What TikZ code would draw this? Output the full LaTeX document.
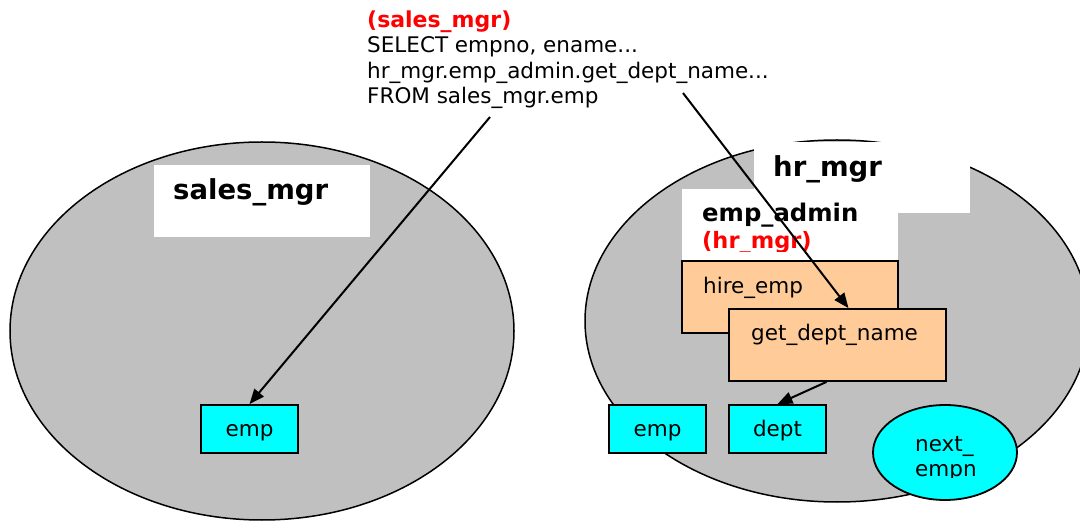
\documentclass[tikz,border=0pt]{standalone}
\usepackage{fontspec}
\setmainfont{DejaVu Sans}
\usetikzlibrary{shapes.geometric,arrows.meta}
\definecolor{schemagray}{HTML}{C0C0C0}
\definecolor{tablecyan}{HTML}{00FFFF}
\definecolor{progpeach}{HTML}{FFCC99}
\begin{document}
\begin{tikzpicture}[x=1pt,y=-1pt,
    schema/.style={ellipse,draw,line width=1.5pt,fill=schemagray,inner sep=0},
    namebox/.style={rectangle,fill=white,minimum width=216,minimum height=72,inner sep=0},
    progbox/.style={rectangle,draw,line width=1.8pt,fill=progpeach,minimum width=216,minimum height=72,inner sep=0},
    tablebox/.style={rectangle,draw,line width=1.8pt,fill=tablecyan,minimum width=97,minimum height=48,inner sep=0,
        text height=16pt,text depth=0pt,font=\fontsize{21.5}{25}\selectfont},
    boxtext/.style={anchor=base west,inner sep=0,font=\fontsize{21.5}{25}\selectfont},
    nametext/.style={anchor=base west,inner sep=0,font=\fontsize{27.5}{32}\selectfont\bfseries},
    ownertext/.style={anchor=base west,inner sep=0,text=red,font=\fontsize{22.5}{26}\selectfont\bfseries},
    callarrow/.style={line width=2pt,-{Triangle[length=15pt,width=12pt]}}]
        \useasboundingbox (0,0) rectangle (1080,521);

        % calling schema

        \node[schema,minimum width=504,minimum height=378] (salesdb) at (262,331) {};
        \node[namebox] (salesname) at (262,201) {};
        \node[nametext] (salestitle) at (173,200) {sales\_mgr};
        \node[tablebox] (empl) at (249.5,429) {emp};

        % owning schema

        \node[schema,minimum width=504,minimum height=362] (hrdb) at (837,321) {};
        \node[namebox,minimum height=71] (hrname) at (862,177.5) {};
        \node[nametext] (hrtitle) at (773,177) {hr\_mgr};
        \node[namebox] (pkgname) at (790,225) {};
        \begin{scope}
            \clip (682,189) rectangle (898,252);
            \node[nametext,font=\fontsize{24.3}{28}\selectfont\bfseries] (pkgtitle) at (702,222) {emp\_admin};
            \node[ownertext] (pkgowner) at (702,249) {(hr\_mgr)};
        \end{scope}
        \node[progbox] (hire) at (790,297) {};
        \node[boxtext] (hiretext) at (703,294) {hire\_emp};
        \node[progbox,minimum width=217] (getdept) at (837.5,345) {};
        \node[boxtext] (getdepttext) at (751,341) {get\_dept\_name};
        \node[tablebox] (empr) at (657.5,429) {emp};
        \node[tablebox] (dept) at (777.5,429) {dept};
        \node[ellipse,draw,line width=1.8pt,fill=tablecyan,minimum width=144,minimum height=95,inner sep=0] (nextseq) at (945,452.5) {};
        \begin{scope}
            \clip (880,400) rectangle (1012,478);
            \node[boxtext] (nexta) at (915,452) {next\_};
            \node[boxtext] (nextb) at (915,477) {empn};
        \end{scope}

        % query

        \node[anchor=base west,inner sep=0,align=left,font=\fontsize{21.5}{25.5}\selectfont] (query) at (367,104)
            {\textcolor{red}{\fontsize{22}{25.5}\selectfont\bfseries (sales\_mgr)}\\SELECT empno, ename...\\hr\_mgr.emp\_admin.get\_dept\_name...\\FROM sales\_mgr.emp};
        \coordinate (fromtab) at (490,117);
        \coordinate (fromfn) at (683,93);

        \draw[callarrow] (fromtab) -- (empl.north);
        \draw[callarrow] (fromfn) -- ([xshift=11pt]getdept.north);
        \draw[callarrow] ([xshift=-11pt]getdept.south) -- (dept.north);

    \end{tikzpicture}
\end{document}
